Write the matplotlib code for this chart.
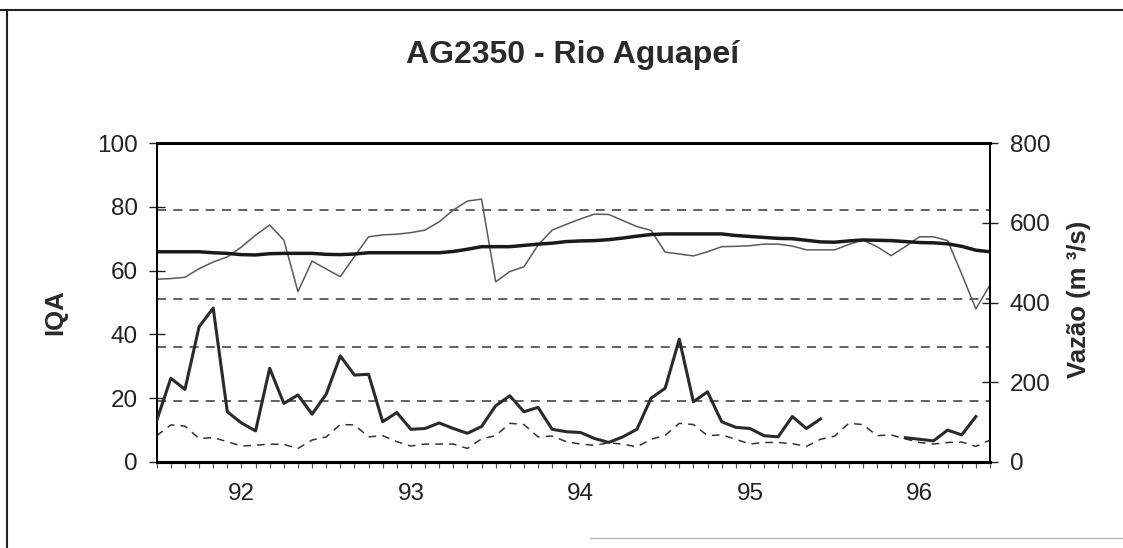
#-------------------------------------------------------------------------------
# AG2350 - Rio Aguapei : IQA and discharge, monthly, 1992-1996
#-------------------------------------------------------------------------------
import matplotlib
matplotlib.use('Agg')
import matplotlib.pyplot as plt
import numpy as np
from matplotlib.lines import Line2D
#-------------------------------------------------------------------------------
# month index 0 = Jan/92 ... 59 = Dec/96
months = np.arange(60)
year_labels = ['92', '93', '94', '95', '96']
year_pos = [6, 18, 30, 42, 54]

# IQA of each month (thin grey line)
iqa = [57.3, 57.5, 57.9, 60.6, 62.7, 64.3, 67.4, 71.1, 74.3, 69.6, 53.4, 63.0,
       60.5, 58.1, 64.4, 70.6, 71.2, 71.4, 71.9, 72.7, 75.3, 79.0, 81.8, 82.4,
       56.5, 59.7, 61.2, 68.0, 72.7, 74.5, 76.2, 77.7, 77.6, 75.7, 73.8, 72.6,
       65.8, 65.2, 64.6, 65.9, 67.5, 67.6, 67.8, 68.3, 68.3, 67.7, 66.5, 66.5,
       66.5, 68.2, 69.6, 67.5, 64.7, 67.5, 70.6, 70.6, 69.4, 58.9, 48.0, 55.5]

# IQA mean (thick dark line)
iqa_mean = [65.9, 65.9, 65.9, 65.9, 65.6, 65.4, 65.0, 64.9, 65.3, 65.4, 65.4, 65.4,
            65.1, 65.0, 65.2, 65.6, 65.6, 65.6, 65.6, 65.6, 65.6, 66.0, 66.7, 67.5,
            67.5, 67.5, 67.9, 68.3, 68.6, 69.1, 69.3, 69.4, 69.7, 70.2, 70.8, 71.3,
            71.5, 71.5, 71.5, 71.5, 71.5, 71.0, 70.7, 70.4, 70.1, 70.0, 69.5, 69.0,
            68.9, 69.3, 69.6, 69.5, 69.4, 69.1, 68.8, 68.7, 68.4, 67.6, 66.4, 65.9]

# discharge on the sampling day, m3/s (nan = no data)
nan = np.nan
vazao = [104, 210, 182, 339, 386, 126, 98, 78, 235, 147, 168, 120,
         170, 266, 218, 220, 101, 124, 82, 84, 98, 84, 72, 89,
         141, 166, 126, 137, 82, 76, 74, 59, 49, 63, 82, 160,
         185, 308, 151, 176, 101, 87, 84, 66, 63, 114, 84, 108,
         nan, nan, nan, nan, nan, 61, 57, 53, 80, 68, 114, nan]

# long term mean discharge, m3/s (dashed)
vazao_media = [66, 93, 90, 59, 61, 51, 40, 42, 45, 44, 34, 55,
               63, 94, 93, 63, 66, 51, 40, 45, 45, 45, 34, 58,
               66, 97, 94, 63, 65, 51, 45, 42, 48, 45, 38, 57,
               67, 97, 94, 66, 68, 57, 45, 49, 49, 46, 39, 57,
               65, 97, 94, 66, 68, 58, 49, 45, 49, 50, 39, 55]

# IQA class limits
limites = [79, 51, 36, 19]
#-------------------------------------------------------------------------------
plt.rcParams['font.family'] = ['Liberation Sans', 'DejaVu Sans']

fig = plt.figure(figsize=(11.23, 5.48), dpi=100)
W, H = 1123., 548.
ax = fig.add_axes([156.7/W, 1-462/H, (990-156.7)/W, (462-143)/H])

for lim in limites:
    ax.axhline(lim, color='#555555', lw=1.3, ls=(0, (5, 4)), zorder=1)

ax.plot(months, iqa, color='#5a5a5a', lw=1.1, zorder=3)
ax.plot(months, iqa_mean, color='#1a1a1a', lw=2.5, zorder=4)

ax.set_xlim(0, 59)
ax.set_ylim(0, 100)
ax.set_yticks([0, 20, 40, 60, 80, 100])
ax.tick_params(axis='y', direction='inout', length=11, width=1.0,
               labelsize=17.5, pad=8.3, colors='#222222')

# a small tick each month, year labels in the middle of each year
ax.xaxis.remove_overlapping_locs = False
ax.set_xticks(months)
ax.set_xticklabels([])
ax.tick_params(axis='x', which='major', direction='out', length=4,
               width=0.8, color='#555555')
ax.set_xticks(year_pos, minor=True)
ax.set_xticklabels(year_labels, minor=True)
ax.tick_params(axis='x', which='minor', length=0, pad=15,
               labelsize=17.5, labelcolor='#222222')

# discharge on the right axis
ax2 = ax.twinx()
ax2.plot(months, vazao_media, color='#333333', lw=1.1, ls=(0, (5, 4)), zorder=2)
ax2.plot(months, vazao, color='#2a2a2a', lw=2.2, zorder=3)
ax2.set_ylim(0, 800)
ax2.set_yticks([0, 200, 400, 600, 800])
ax2.tick_params(axis='y', direction='inout', length=11.5, width=1.0,
                labelsize=17.5, pad=8.6, colors='#222222')

for a in (ax, ax2):
    a.spines['top'].set_linewidth(2.0)
    a.spines['bottom'].set_linewidth(2.2)
    a.spines['left'].set_linewidth(1.4)
    a.spines['right'].set_linewidth(1.4)

#-------------------------------------------------------------------------------
# texts
fig.text(573/W, 1-55/H, 'AG2350 - Rio Aguapeí', ha='center', va='center',
         fontsize=23, fontweight='bold', color='#2a2a2a')
fig.text(55/W, 1-312/H, 'IQA', ha='center', va='center', rotation=90,
         fontsize=18.5, fontweight='bold', color='#2a2a2a')
fig.text(1079/W, 1-299/H, 'Vazão (m ³/s)', ha='center', va='center',
         rotation=90, fontsize=18.5, fontweight='bold', color='#2a2a2a')

# frame of the scanned page
fig.add_artist(Line2D([0, 1], [1-10/H, 1-10/H], transform=fig.transFigure,
                      color='#222222', lw=1.5))
fig.add_artist(Line2D([7/W, 7/W], [0, 1-10/H], transform=fig.transFigure,
                      color='#222222', lw=1.5))
fig.add_artist(Line2D([590/W, 1], [1-538/H, 1-538/H], transform=fig.transFigure,
                      color='#bbbbbb', lw=1.0))

fig.savefig('out.png', dpi=100)
#-------------------------------------------------------------------------------
